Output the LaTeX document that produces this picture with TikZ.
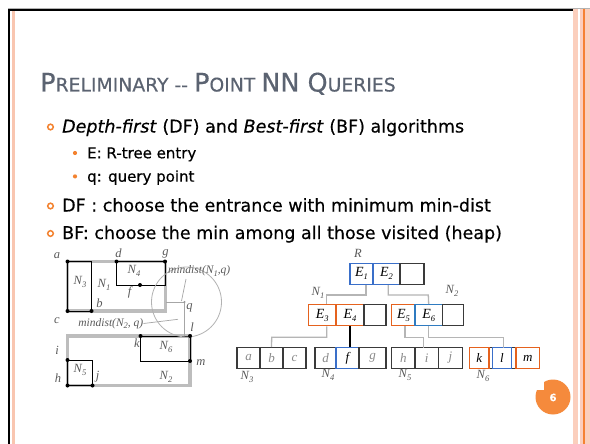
\documentclass[tikz,border=0pt]{standalone}
\usepackage{fontspec}
\setmainfont[FakeBold=0.35]{DejaVu Sans}
\newfontfamily\figfont{Liberation Serif}
\definecolor{titlecol}{HTML}{5B6371}
\definecolor{accent}{HTML}{F3822F}
\definecolor{salmon}{HTML}{F9C6B0}
\definecolor{bandcol}{HTML}{FBCFBD}
\definecolor{bandline}{HTML}{F58233}
\definecolor{treeblue}{HTML}{3A6FC9}
\definecolor{treeblue2}{HTML}{2F7BC0}
\definecolor{treeorange}{HTML}{E5621E}
\definecolor{boxdark}{HTML}{3A3A3A}
\definecolor{linkgray}{HTML}{B5B5B5}
\definecolor{mbrgray}{HTML}{BDBDBD}
\definecolor{lblgray}{HTML}{5A5A5A}
\definecolor{leafgray}{HTML}{8A8A8A}
\definecolor{pgorange}{HTML}{F58A3C}
\newcommand\ttlL[1]{{\fontsize{25.5}{25.5}\selectfont #1}}
\newcommand\ttlS[1]{{\fontsize{18.8}{18.8}\selectfont #1}}
\newcommand\sbs[1]{\raisebox{-0.45ex}{\fontsize{8.5}{8.5}\selectfont #1}}
\tikzset{
  body/.style={anchor=base west, inner sep=0, font=\fontsize{17.5}{17.5}\selectfont, text=black},
  subtext/.style={anchor=base west, inner sep=0, font=\fontsize{15}{15}\selectfont, text=black},
  ring/.style={draw=accent, line width=1.5},
  lbl/.style={inner sep=0, text=lblgray, font=\figfont\itshape\fontsize{12.5}{12.5}\selectfont},
  mdlbl/.style={inner sep=0, text=lblgray, font=\figfont\itshape\fontsize{11.5}{11.5}\selectfont},
  mbr/.style={draw=mbrgray, line width=3.5},
  subr/.style={draw=black, line width=0.8},
  link/.style={draw=linkgray, line width=1.3},
  thinlink/.style={draw=gray!70, line width=0.7},
  cell/.style={rectangle, inner sep=0, line width=1.4, minimum height=21,
    font=\figfont\itshape\fontsize{14}{14}\selectfont},
  leaf/.style={rectangle, inner sep=0, line width=1.4, minimum height=20.6,
    draw=boxdark, text=leafgray, font=\figfont\itshape\fontsize{13}{13}\selectfont},
}
\begin{document}
\begin{tikzpicture}[x=1pt,y=-1pt]
\useasboundingbox (0,0) rectangle (590,444);
\fill[white] (0,0) rectangle (590,444);
% slide frame
\fill[bandcol] (573,8) rectangle (590,444);
\draw[white, line width=1.5] (578.8,8) -- (578.8,444);
\draw[bandline, line width=1.2] (584,8) -- (584,444);
\draw[gray!60, line width=0.8] (8,8.3) -- (590,8.3);
\draw[black, line width=2.5] (9.2,444) -- (9.2,10) -- (573,10);
\draw[salmon, line width=3] (13.5,11.5) -- (13.5,444);

% title
\node[anchor=base west, inner sep=0, text=titlecol] (title) at (40,91.5)
  {\ttlL{P}\ttlS{RELIMINARY -{}- }\ttlL{P}\ttlS{OINT }\ttlL{NN Q}\ttlS{UERIES}};

% bullets
\node[body] (l1) at (62,132.5) {\textit{Depth-first} (DF) and \textit{Best-first} (BF) algorithms};
\draw[ring] (50.5,127) circle (2.8);
\node[subtext] (s1) at (87,158.3) {E: R-tree entry};
\fill[accent] (75,153) circle (2.1);
\node[subtext] (s2) at (87,181.7) {q: query point};
\fill[accent] (75,176.4) circle (2.1);
\node[body] (l2) at (62,211.5) {DF : choose the entrance with minimum min-dist};
\draw[ring] (50.5,206) circle (2.8);
\node[body] (l3) at (62,239) {BF: choose the min among all those visited (heap)};
\draw[ring] (50.5,233.5) circle (2.8);

% ---------- left figure ----------
\coordinate (pa) at (67.5,261.5);
\coordinate (pd) at (116.5,261.5);
\coordinate (pg) at (165,261.5);
\coordinate (pf) at (140,285);
\coordinate (pb) at (91.5,311);
\coordinate (pc) at (67.5,311);
\coordinate (pk) at (140.5,336);
\coordinate (pl) at (190,336);
\coordinate (pm) at (190,361);
\coordinate (pi) at (67.5,360);
\coordinate (ph) at (67.5,385.5);
\coordinate (pj) at (92.5,385.5);
\coordinate (pq) at (184.5,302);

\draw[mbr] (pa) rectangle (165.5,311);
\draw[mbr] (67.5,336) rectangle (190,385.5);
\draw[subr] (pa) rectangle (pb);
\draw[subr] (pd) rectangle (165,285);
\draw[subr] (pk) rectangle (pm);
\draw[subr] (pi) rectangle (pj);
\draw[gray!60, line width=0.8] (186.5,302) circle (35);
\draw[thinlink] (166,302) -- (pq) -- (184.5,336);
\foreach \p in {pa,pd,pg,pf,pb,pc,pk,pl,pm,pi,ph,pj} \fill (\p) circle (2);
\fill[gray!80] (pq) circle (1.1);

\node[lbl] (la) at (57,256) {a};
\node[lbl] (ld) at (118.5,253.5) {d};
\node[lbl] (lg) at (165.5,253.5) {g};
\node[lbl] (lb) at (99.5,303) {b};
\node[lbl] (lc) at (57,321) {c};
\node[lbl] (lf) at (129.5,292) {f};
\node[lbl] (lN3) at (80,282) {N\sbs{3}};
\node[lbl] (lN1) at (104,285) {N\sbs{1}};
\node[lbl] (lN4) at (134,271) {N\sbs{4}};
\node[lbl] (lq) at (189.5,307.5) {q};
\node[lbl] (ll) at (192,327) {l};
\node[lbl] (li) at (57,350) {i};
\node[lbl] (lh) at (58,378) {h};
\node[lbl] (lj) at (97.5,376.5) {j};
\node[lbl] (lk) at (137,343) {k};
\node[lbl] (lm) at (201,363) {m};
\node[lbl] (lN6) at (166,347) {N\sbs{6}};
\node[lbl] (lN5) at (80,370) {N\sbs{5}};
\node[lbl] (lN2) at (166,377) {N\sbs{2}};
\node[mdlbl, anchor=west] (md1) at (168,271) {mindist(N\sbs{1},q)};
\node[mdlbl, anchor=east] (md2) at (143.5,323.5) {mindist(N\sbs{2}, q)};
\draw[thinlink] (186,279) -- (181.5,301);
\draw[thinlink] (md2.east) -- (178,319.3);

% ---------- right tree ----------
\node[lbl] (lR) at (358,253) {R};
\node[cell, draw=treeblue, minimum width=23] (E1) at (361.5,273.8) {E\sbs{1}};
\node[cell, draw=treeblue, minimum width=27] (E2) at (386.5,273.8) {E\sbs{2}};
\node[cell, draw=boxdark, minimum width=24] (R3) at (412,273.8) {};

\node[cell, draw=treeorange, minimum width=27.7] (E3) at (322.2,315.2) {E\sbs{3}};
\node[cell, draw=treeorange, minimum width=28] (E4) at (350,315.2) {E\sbs{4}};
\node[cell, draw=boxdark, minimum width=22] (A3) at (375,315.2) {};
\node[cell, draw=treeorange, minimum width=23.3] (E5) at (403.4,315.2) {E\sbs{5}};
\node[cell, draw=treeblue2, minimum width=27.3] (E6) at (428.7,315.2) {E\sbs{6}};
\node[cell, draw=boxdark, minimum width=21] (B3) at (452.8,315.2) {};

\node[lbl] (tN1) at (318,293) {N\sbs{1}};
\node[lbl] (tN2) at (452,291) {N\sbs{2}};

\node[leaf, minimum width=23] (la1) at (248.5,358) {a};
\node[leaf, minimum width=23] (lb1) at (271.5,358) {b};
\node[leaf, minimum width=23] (lc1) at (294.5,358) {c};
\node[leaf, minimum width=21] (ld1) at (325.5,358) {d};
\node[leaf, minimum width=23, draw=treeblue, text=black] (lf1) at (347.5,358) {f};
\node[leaf, minimum width=27] (lg1) at (372.5,358) {g};
\node[leaf, minimum width=23.3] (lh1) at (403.4,358) {h};
\node[leaf, minimum width=23.3] (li1) at (426.7,358) {i};
\node[leaf, minimum width=24.4] (lj1) at (450.5,358) {j};
\node[leaf, minimum width=70, text=black] (N6box) at (504.4,358) {};
\node[leaf, minimum width=19.5, draw=treeorange, fill=white, text=black] (lk1) at (479.3,358) {k};
\node[leaf, minimum width=19.4, draw=treeblue, fill=white, text=black] (ll1) at (502,358) {l};
\node[leaf, minimum width=23.3, draw=treeorange, fill=white, text=black] (lm1) at (527.7,358) {m};

\node[lbl] (tN3) at (247,377) {N\sbs{3}};
\node[lbl] (tN4) at (328,375) {N\sbs{4}};
\node[lbl] (tN5) at (405,375) {N\sbs{5}};
\node[lbl] (tN6) at (483,376) {N\sbs{6}};

\draw[link] ([xshift=4.5]E1.south) |- (326.7,295) -- ([xshift=4.5]E3.north);
\draw[link] ([xshift=1.8]E2.south) |- (428.3,295) -- (E6.north);
\draw[link] ([xshift=4.5]E3.south) |- (271.7,337.3) -- (lb1.north);
\draw[black, line width=1.3] (E4.south) -- (E4.south |- lf1.north);
\draw[link] ([xshift=1.6]E5.south) |- (423.3,337.3) -- (423.3,347.7);
\draw[link] (E6.south) |- (503.3,337.3) -- (503.3,347.7);

% page number
\fill[pgorange] (553,397) circle (17.5);
\fill[white] (534,377) rectangle (543.5,390);
\node[text=white, inner sep=0, font=\bfseries\fontsize{10}{10}\selectfont] (pgnum) at (553,397.5) {6};
\end{tikzpicture}
\end{document}
